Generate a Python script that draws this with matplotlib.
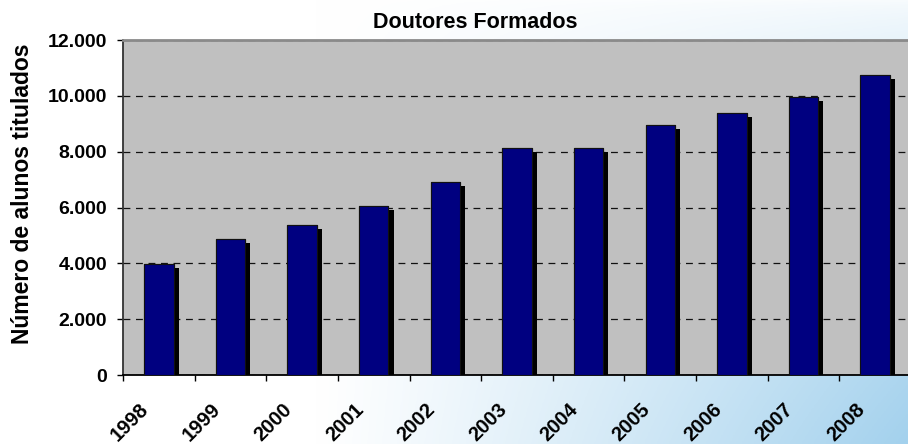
import numpy as np
import matplotlib
matplotlib.use("Agg")
import matplotlib.pyplot as plt
import matplotlib.patheffects as pe
from matplotlib.transforms import ScaledTranslation

plt.rcParams['font.family'] = ['Liberation Sans', 'DejaVu Sans']
plt.rcParams['font.weight'] = 'bold'

# data
years = ["1998", "1999", "2000", "2001", "2002", "2003",
         "2004", "2005", "2006", "2007", "2008"]
doutores = [3960, 4870, 5360, 6060, 6920, 8120, 8120, 8960, 9390, 9960, 10730]
y_ticks = [0, 2000, 4000, 6000, 8000, 10000, 12000]

fig = plt.figure(figsize=(9.08, 4.44), dpi=100)

# slide-like background: white to light blue towards bottom right
bg = fig.add_axes([0, 0, 1, 1], zorder=-1)
gx, gy = np.meshgrid(np.linspace(0, 1, 300), np.linspace(0, 1, 150))
t = np.clip((gx - 0.35) / 0.65, 0, 1) ** 1.1 * (0.08 + 0.92 * (1 - gy) ** 0.7)
c0 = np.array([1.0, 1.0, 1.0])
c1 = np.array([0.64, 0.82, 0.93])
img = c0 + (c1 - c0) * t[..., None]
bg.imshow(img, aspect='auto', extent=[0, 1, 0, 1], origin='lower')
bg.axis('off')

ax = fig.add_axes([123 / 908, 69 / 444, 788 / 908, 335 / 444])
ax.set_facecolor('#C0C0C0')

x = np.arange(len(years))
bars = ax.bar(x, doutores, width=0.41, color='#000080', edgecolor='#111111',
              linewidth=0.8, zorder=3)
for b in bars:
    b.set_path_effects([pe.withSimplePatchShadow(offset=(3.7, -2.9),
                                                 shadow_rgbFace='black',
                                                 alpha=1.0),
                        pe.Normal()])

ax.set_xlim(-0.5, len(years) - 0.5)
ax.set_ylim(0, 12000)

ax.set_yticks(y_ticks)
ax.set_yticklabels([f"{v:,.0f}".replace(",", ".") for v in y_ticks],
                   fontsize=14, fontweight='bold')
ax.yaxis.grid(True, color='#111111', linestyle=(0, (5.5, 4.5)), linewidth=0.9)
ax.set_axisbelow(True)

ax.set_xticks(x)
ax.set_xticklabels(years, fontsize=14.5, fontweight='bold', rotation=45,
                   ha='center', va='top')
ax.set_xticks(np.arange(-0.5, len(years), 1), minor=True)
ax.tick_params(axis='x', which='major', length=0, pad=18)
ax.tick_params(axis='x', which='minor', length=4, width=1, direction='out')
ax.tick_params(axis='y', length=4.3, width=1, direction='out', pad=7)
for lab in ax.get_xticklabels():
    lab.set_transform(lab.get_transform() +
                      ScaledTranslation(-0.29, 0, fig.dpi_scale_trans))

ax.spines['top'].set_color('#8a8a8a')
ax.spines['top'].set_linewidth(2)
ax.spines['left'].set_color('#333333')
ax.spines['left'].set_linewidth(1.3)
ax.spines['bottom'].set_color('black')
ax.spines['bottom'].set_linewidth(1.3)
ax.spines['right'].set_visible(False)

fig.text(475 / 908, 416 / 444, "Doutores Formados", ha='center',
         va='baseline', fontsize=15.5, fontweight='bold')
fig.text(23 / 908, 0.564, "Número de alunos titulados", rotation=90,
         ha='center', va='center', fontsize=16.5, fontweight='bold')

fig.savefig("out.png", dpi=100)
